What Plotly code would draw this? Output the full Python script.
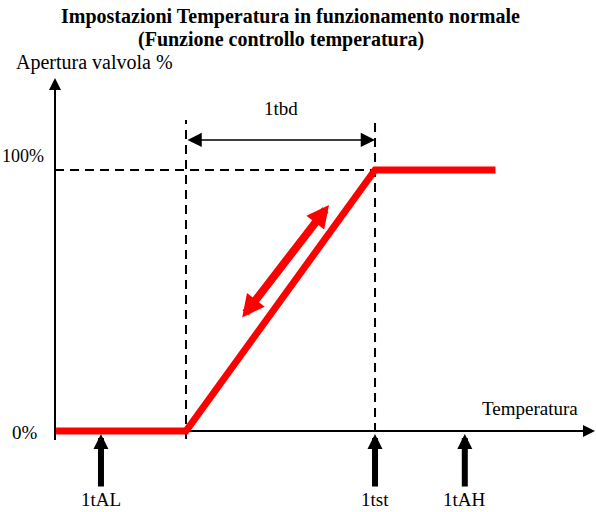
import plotly.graph_objects as go

# Valve-opening characteristic vs. temperature (schematic units)
T_AL = 4.2        # low alarm threshold (1tAL)
T_ST = 10.0       # set point (1tst)
T_BD = 4.0        # proportional band (1tbd)
T_AH = 11.9       # high alarm threshold (1tAH)

temperature = [3.25, T_ST - T_BD, T_ST, 12.55]
opening = [0, 0, 100, 100]

threshold_labels = ["1tAL", "1tst", "1tAH"]
threshold_values = [T_AL, T_ST, T_AH]

# Visible window of the schematic
X_RANGE = [2.063, 14.677]
Y_RANGE = [-31.03, 165.13]
W, H = 596, 512

AXIS_X = 3.227          # temperature where the vertical axis sits
AXIS_X_END = 14.656
AXIS_Y_TOP = 135.2
AXIS_Y_BOTTOM = -3.45
GUIDE_TOP = 119.2
BAND_Y = 111.5

FONT = "Liberation Serif"


def px(x):
    return x / W


def py(y):
    return 1 - y / H


fig = go.Figure()

fig.add_trace(go.Scatter(
    x=temperature, y=opening, mode="lines",
    line=dict(color="#ff0000", width=7),
    hoverinfo="skip",
))

shapes = [
    # axes
    dict(type="line", x0=AXIS_X, x1=AXIS_X_END - 0.2, y0=0, y1=0,
         line=dict(color="black", width=2), layer="below"),
    dict(type="line", x0=AXIS_X, x1=AXIS_X, y0=AXIS_Y_BOTTOM, y1=AXIS_Y_TOP - 3,
         line=dict(color="black", width=2), layer="below"),
    # dashed guides
    dict(type="line", x0=AXIS_X, x1=T_ST, y0=100, y1=100,
         line=dict(color="black", width=2, dash="9px,6px"), layer="below"),
    dict(type="line", x0=T_ST - T_BD, x1=T_ST - T_BD, y0=AXIS_Y_BOTTOM + 0.4, y1=GUIDE_TOP,
         line=dict(color="black", width=2, dash="9px,6px"), layer="below"),
    dict(type="line", x0=T_ST, x1=T_ST, y0=-0.4, y1=GUIDE_TOP,
         line=dict(color="black", width=2, dash="9px,6px"), layer="below"),
]

annotations = []

# axis arrowheads
annotations.append(dict(x=AXIS_X_END, y=0, ax=AXIS_X_END - 0.6, ay=0,
                        xref="x", yref="y", axref="x", ayref="y", text="",
                        showarrow=True, arrowhead=2, arrowsize=1.2, arrowwidth=2,
                        arrowcolor="black"))
annotations.append(dict(x=AXIS_X, y=AXIS_Y_TOP, ax=AXIS_X, ay=AXIS_Y_TOP - 12,
                        xref="x", yref="y", axref="x", ayref="y", text="",
                        showarrow=True, arrowhead=2, arrowsize=1.2, arrowwidth=2,
                        arrowcolor="black"))

# band width arrow (1tbd)
annotations.append(dict(x=T_ST, y=BAND_Y, ax=T_ST - T_BD, ay=BAND_Y,
                        xref="x", yref="y", axref="x", ayref="y", text="",
                        showarrow=True, arrowside="end+start",
                        arrowhead=2, startarrowhead=2,
                        arrowsize=1.9, startarrowsize=1.9, arrowwidth=1.5,
                        arrowcolor="black"))

# red double arrow along the ramp
annotations.append(dict(x=9.026, y=86.6, ax=7.164, ay=42.9,
                        xref="x", yref="y", axref="x", ayref="y", text="",
                        showarrow=True, arrowside="end+start",
                        arrowhead=2, startarrowhead=2,
                        arrowsize=0.56, startarrowsize=0.56, arrowwidth=8,
                        arrowcolor="#ff0000"))

# threshold markers under the temperature axis
for name, t in zip(threshold_labels, threshold_values):
    annotations.append(dict(x=t, y=-1.15, ax=t, ay=-21.8,
                            xref="x", yref="y", axref="x", ayref="y", text="",
                            showarrow=True, arrowhead=2, arrowsize=0.5, arrowwidth=6,
                            arrowcolor="black"))
    annotations.append(dict(x=t, y=py(499), xref="x", yref="paper", text=name,
                            showarrow=False, xanchor="center", yanchor="middle",
                            font=dict(family=FONT, size=19, color="black")))

text_font = dict(family=FONT, size=19, color="black")
title_font = dict(family=FONT, size=20, color="black")
annotations += [
    dict(x=px(290), y=py(16), xref="paper", yref="paper",
         text="<b>Impostazioni Temperatura in funzionamento normale</b>",
         showarrow=False, xanchor="center", yanchor="middle", font=title_font),
    dict(x=px(281), y=py(39), xref="paper", yref="paper",
         text="<b>(Funzione controllo temperatura)</b>",
         showarrow=False, xanchor="center", yanchor="middle", font=title_font),
    dict(x=px(14), y=py(62), xref="paper", yref="paper", text="Apertura valvola %",
         showarrow=False, xanchor="left", yanchor="middle",
         font=dict(family=FONT, size=20, color="black")),
    dict(x=px(0), y=py(156), xref="paper", yref="paper", text="100%",
         showarrow=False, xanchor="left", yanchor="middle",
         font=dict(family=FONT, size=18, color="black")),
    dict(x=px(40), y=py(432), xref="paper", yref="paper", text="0%",
         showarrow=False, xanchor="right", yanchor="middle", font=text_font),
    dict(x=T_ST - T_BD / 2, y=py(108), xref="x", yref="paper", text="1tbd",
         showarrow=False, xanchor="center", yanchor="middle", font=text_font),
    dict(x=px(530), y=py(408), xref="paper", yref="paper", text="Temperatura",
         showarrow=False, xanchor="center", yanchor="middle", font=text_font),
]

fig.update_layout(
    width=W, height=H,
    margin=dict(l=0, r=0, t=0, b=0),
    paper_bgcolor="white", plot_bgcolor="white",
    showlegend=False,
    xaxis=dict(range=X_RANGE, visible=False, fixedrange=True),
    yaxis=dict(range=Y_RANGE, visible=False, fixedrange=True),
    shapes=shapes,
    annotations=annotations,
)

fig.write_html("out.html")
